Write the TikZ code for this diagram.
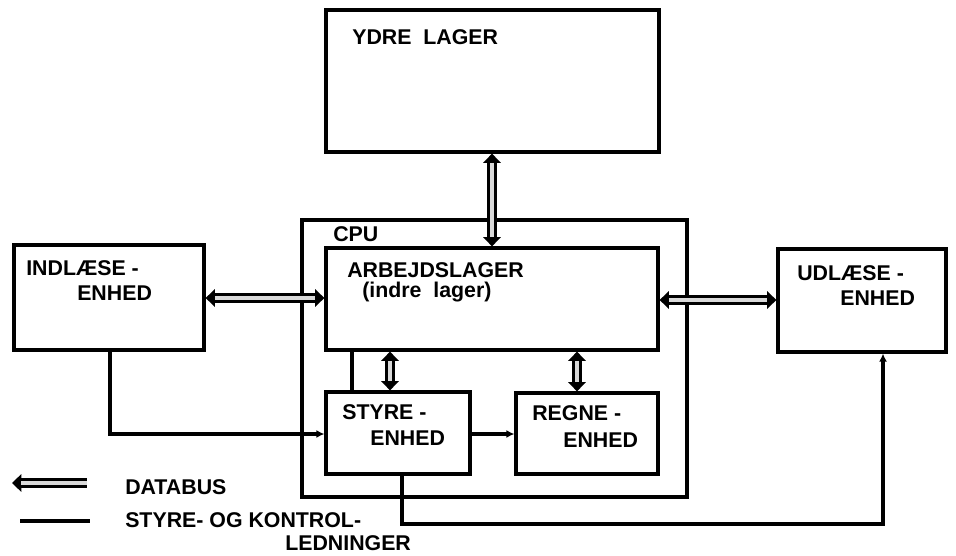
\documentclass[tikz,border=0pt]{standalone}
\usepackage{fontspec}
\setmainfont{Liberation Sans}
\usetikzlibrary{arrows.meta,fit,calc}
\begin{document}
\begin{tikzpicture}[x=0.75pt,y=-0.75pt,
  box/.style={draw, line width=2.4pt, inner sep=0pt},
  cpubox/.style={draw, line width=3pt, inner sep=0pt},
  lbl/.style={anchor=west, inner sep=0pt, font=\fontsize{16}{18}\selectfont\bfseries},
  bus/.style={line width=7pt, {Triangle[length=7pt,width=13pt]}-{Triangle[length=7pt,width=13pt]}},
  busin/.style={line width=2.6pt, draw=black!15, shorten >=7pt, shorten <=7pt},
  ctrl/.style={line width=2.4pt, -{Latex[length=6pt,width=6pt]}},
  plain/.style={line width=2.4pt}]
\useasboundingbox (0,0) rectangle (956,556);
% boxes
\node[box, fit={(326,10)(659,152)}] (ydre) {};
\node[cpubox, fit={(302,220)(687,497)}] (cpu) {};
\node[box, fit={(326,248)(658,350)}] (arb) {};
\node[box, fit={(326,392)(470,474)}] (styre) {};
\node[box, fit={(516,393)(658,474)}] (regne) {};
\node[box, fit={(14,245)(204,350)}] (ind) {};
\node[box, fit={(778,249)(946,352)}] (ud) {};
% texts
\node[lbl] (t1) at (352,37) {YDRE\ \ LAGER};
\node[lbl] (t2) at (333,234) {CPU};
\node[lbl] (t3) at (347,270) {ARBEJDSLAGER};
\node[lbl] (t4) at (362,292) {(indre\ \ lager)};
\node[lbl] (t5) at (342,412) {STYRE -};
\node[lbl] (t6) at (370,438) {ENHED};
\node[lbl] (t7) at (532,413) {REGNE -};
\node[lbl] (t8) at (563,440) {ENHED};
\node[lbl] (t9) at (26,268) {INDLÆSE -};
\node[lbl] (t10) at (77,293) {ENHED};
\node[lbl] (t11) at (797,273) {UDLÆSE -};
\node[lbl] (t12) at (840,298) {ENHED};
\node[lbl] (t13) at (125,487) {DATABUS};
\node[lbl] (t14) at (125,520) {STYRE- OG KONTROL-};
\node[lbl] (t15) at (285,543) {LEDNINGER};
% helper coordinates
\coordinate (vtop) at (492,0);
\coordinate (vsty) at (390,0);
\coordinate (vreg) at (577,0);
\coordinate (hl) at (0,298);
\coordinate (hr) at (0,300);
\coordinate (vind) at (110,0);
\coordinate (hsty) at (0,434);
\coordinate (vsa) at (352,0);
\coordinate (vsb) at (402,0);
\coordinate (hbot) at (0,524);
\coordinate (vud) at (883,0);
% data buses
\foreach \a/\b in {{ydre.south -| vtop}/{arb.north -| vtop},
                   {arb.south -| vsty}/{styre.north -| vsty},
                   {arb.south -| vreg}/{regne.north -| vreg},
                   {ind.east |- hl}/{arb.west |- hl},
                   {arb.east |- hr}/{ud.west |- hr}}{
  \draw[bus] (\a) -- (\b);
  \draw[busin] (\a) -- (\b);
}
% control lines
\draw[ctrl] (ind.south -| vind) |- (styre.west |- hsty);
\draw[ctrl] (styre.east |- hsty) -- (regne.west |- hsty);
\draw[plain] (styre.north -| vsa) -- (arb.south -| vsa);
\draw[ctrl] (styre.south -| vsb) -- (vsb |- hbot) -- (vud |- hbot) -- (ud.south -| vud);
% legend
\coordinate (la) at (12,483);
\coordinate (lb) at (87,483);
\coordinate (lc) at (20,521);
\coordinate (ld) at (90,521);
\draw[line width=7pt, {Triangle[length=7pt,width=13pt]}-] (la) -- (lb);
\draw[busin, shorten >=0pt] (la) -- (lb);
\draw[plain] (lc) -- (ld);
\end{tikzpicture}
\end{document}
